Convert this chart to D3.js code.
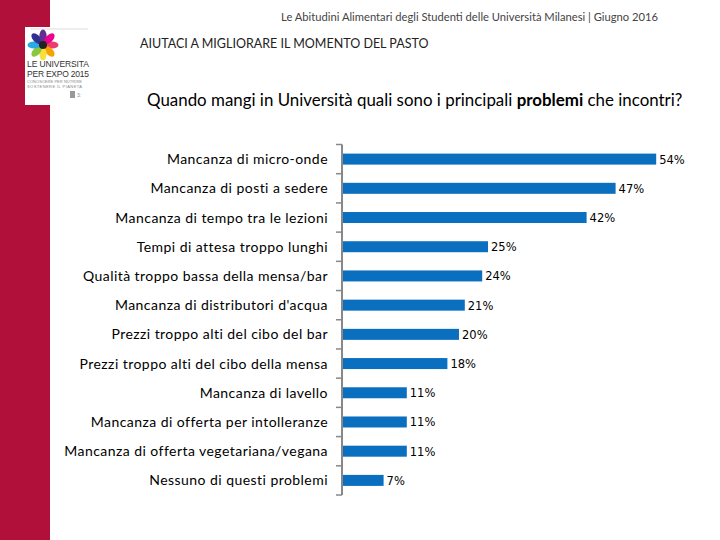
<!DOCTYPE html>
<html><head><meta charset="utf-8">
<script src="https://cdn.jsdelivr.net/npm/d3@7"></script>
<style>body{margin:0;background:#fff}svg{display:block}</style>
</head><body>
<script>
const categories = [
  "Mancanza di micro-onde",
  "Mancanza di posti a sedere",
  "Mancanza di tempo tra le lezioni",
  "Tempi di attesa troppo lunghi",
  "Qualità troppo bassa della mensa/bar",
  "Mancanza di distributori d'acqua",
  "Prezzi troppo alti del cibo del bar",
  "Prezzi troppo alti del cibo della mensa",
  "Mancanza di lavello",
  "Mancanza di offerta per intolleranze",
  "Mancanza di offerta vegetariana/vegana",
  "Nessuno di questi problemi"
];
const values = [54, 47, 42, 25, 24, 21, 20, 18, 11, 11, 11, 7];
const valueLabels = ["54%","47%","42%","25%","24%","21%","20%","18%","11%","11%","11%","7%"];

const W = 720, H = 540;
const svg = d3.select("body").append("svg").attr("width", W).attr("height", H);

// left band
svg.append("rect").attr("x",0).attr("y",0).attr("width",50).attr("height",H).attr("fill","#b0103a");
// logo box
const logo = svg.append("g");
logo.append("rect").attr("x",25).attr("y",27).attr("width",65).attr("height",78).attr("fill","#fff");
logo.append("line").attr("x1",30).attr("x2",88).attr("y1",29).attr("y2",29).attr("stroke","#ddd");
const petalColors = ["#e83f6f","#f4a300","#f7e03c","#8cc63f","#29abe2","#2e3192","#662d91","#ec008c"];
petalColors.forEach((c,i)=>{
  const a = i*Math.PI/4;
  const cx = 43+Math.cos(a)*9, cy = 45+Math.sin(a)*9;
  logo.append("ellipse").attr("cx",cx).attr("cy",cy)
    .attr("rx",6.5).attr("ry",3.6).attr("fill",c)
    .attr("transform",`rotate(${i*45},${cx},${cy})`);
});
logo.append("circle").attr("cx",43).attr("cy",45).attr("r",4).attr("fill","#222");
logo.append("text").attr("x",27).attr("y",67).attr("font-family","Liberation Sans").attr("font-size",8.5).attr("textLength",62).attr("fill","#333").text("LE UNIVERSITA");
logo.append("text").attr("x",27).attr("y",77).attr("font-family","Liberation Sans").attr("font-size",8.5).attr("textLength",62).attr("fill","#333").text("PER EXPO 2015");
logo.append("text").attr("x",27).attr("y",83).attr("font-family","Liberation Sans").attr("font-size",4).attr("textLength",55).attr("fill","#888").text("CONOSCERE PER NUTRIRE");
logo.append("text").attr("x",27).attr("y",88).attr("font-family","Liberation Sans").attr("font-size",4).attr("textLength",55).attr("fill","#888").text("SOSTENERE IL PIANETA");
logo.append("rect").attr("x",70).attr("y",91).attr("width",5).attr("height",7).attr("fill","#999");
logo.append("text").attr("x",77).attr("y",97).attr("font-family","Liberation Sans").attr("font-size",5).attr("fill","#888").text("3:");

// headers
svg.append("text").attr("x",658).attr("y",21).attr("text-anchor","end")
  .attr("font-family","Lato").attr("font-size",11.2).attr("fill","#444")
  .text("Le Abitudini Alimentari degli Studenti delle Università Milanesi |  Giugno 2016");
svg.append("text").attr("x",140).attr("y",48)
  .attr("font-family","Lato").attr("font-size",12.5).attr("fill","#222")
  .text("AIUTACI A MIGLIORARE IL MOMENTO DEL PASTO");
const q = svg.append("text").attr("x",147).attr("y",106)
  .attr("font-family","Lato").attr("font-size",16.9).attr("fill","#000");
q.append("tspan").text("Quando mangi in Università quali sono i principali ");
q.append("tspan").attr("font-weight","bold").text("problemi");
q.append("tspan").text(" che incontri?");

// scales
const x = d3.scaleLinear().domain([0, 60]).range([343, 343 + 348]);
const y = d3.scaleBand().domain(categories).range([144.5, 495]).paddingInner(0);

// bars
const barH = 11;
svg.append("g").selectAll("rect").data(values).join("rect")
  .attr("x", x(0)).attr("y", (d,i)=> y(categories[i]) + y.bandwidth()/2 - barH/2)
  .attr("width", d => x(d) - x(0)).attr("height", barH).attr("fill", "#0a6fbf");

// value labels
svg.append("g").selectAll("text").data(values).join("text")
  .attr("x", d => x(d) + 3).attr("y", (d,i)=> y(categories[i]) + y.bandwidth()/2 + 4.5)
  .attr("font-family","DejaVu Sans").attr("font-size",11.5).attr("fill","#000")
  .text((d,i)=> valueLabels[i]);

// axis line and ticks at band boundaries
const ax = svg.append("g");
ax.append("line").attr("x1",342).attr("x2",342).attr("y1",144.5).attr("y2",495).attr("stroke","#888").attr("stroke-width",2);
const bounds = categories.map(c=>y(c)).concat([y.range()[1]]);
ax.selectAll("line.t").data(bounds).join("line").attr("class","t")
  .attr("x1",336).attr("x2",342).attr("y1",d=>d).attr("y2",d=>d).attr("stroke","#888").attr("stroke-width",1.5);

// category labels
svg.append("g").selectAll("text").data(categories).join("text")
  .attr("x", 328).attr("y", c => y(c) + y.bandwidth()/2 + 5)
  .attr("text-anchor","end").attr("font-family","Lato").attr("font-size",14).attr("letter-spacing",0.45).attr("fill","#000")
  .text(c=>c);
</script>
</body></html>
